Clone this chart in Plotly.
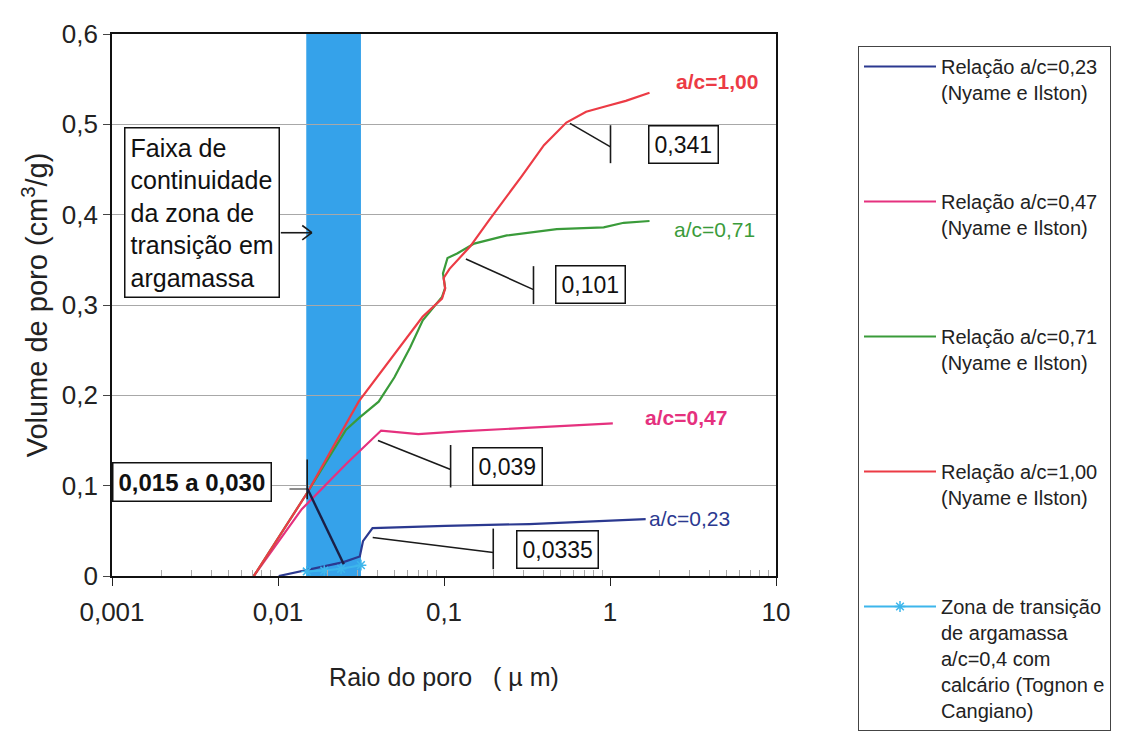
import math
import plotly.graph_objects as go

# ---------------- data ----------------
x_tick_vals = [0.001, 0.01, 0.1, 1, 10]
x_tick_text = ["0,001", "0,01", "0,1", "1", "10"]
y_tick_vals = [0, 0.1, 0.2, 0.3, 0.4, 0.5, 0.6]
y_tick_text = ["0", "0,1", "0,2", "0,3", "0,4", "0,5", "0,6"]

r_023 = [0.0101, 0.0149, 0.0248, 0.0311, 0.0325, 0.0371, 0.102, 0.326, 1.64]
v_023 = [0.0, 0.0066, 0.0154, 0.0216, 0.0385, 0.053, 0.0555, 0.0575, 0.063]

r_047 = [0.00715, 0.0139, 0.0261, 0.0418, 0.07, 0.124, 0.313, 1.04]
v_047 = [0.0, 0.074, 0.125, 0.161, 0.157, 0.160, 0.164, 0.169]

r_071 = [0.00715, 0.0151, 0.0257, 0.0308, 0.0404, 0.0503, 0.0625, 0.0745, 0.0973,
         0.1016, 0.0986, 0.105, 0.120, 0.152, 0.239, 0.478, 0.916, 1.21, 1.73]
v_071 = [0.0, 0.093, 0.162, 0.175, 0.193, 0.220, 0.253, 0.283, 0.309,
         0.319, 0.335, 0.352, 0.357, 0.368, 0.377, 0.384, 0.386, 0.391, 0.393]

r_100 = [0.00715, 0.0151, 0.0306, 0.0743, 0.0973, 0.1016, 0.0995, 0.108, 0.144,
         0.187, 0.295, 0.40, 0.546, 0.718, 0.946, 1.245, 1.73]
v_100 = [0.0, 0.093, 0.193, 0.287, 0.307, 0.318, 0.330, 0.340, 0.365,
         0.394, 0.443, 0.477, 0.502, 0.514, 0.520, 0.526, 0.535]

r_zt = [0.0149, 0.019, 0.024, 0.0316]
v_zt = [0.005, 0.006, 0.008, 0.012]

band_range = [0.0148, 0.0316]   # "0,015 a 0,030"

series_names = [
    "Relação a/c=0,23<br>(Nyame e Ilston)",
    "Relação a/c=0,47<br>(Nyame e Ilston)",
    "Relação a/c=0,71<br>(Nyame e Ilston)",
    "Relação a/c=1,00<br>(Nyame e Ilston)",
    "Zona de transição<br>de argamassa<br>a/c=0,4 com<br>calcário (Tognon e<br>Cangiano)",
]
end_labels = ["a/c=0,23", "a/c=0,47", "a/c=0,71", "a/c=1,00"]
callout_values = ["0,0335", "0,039", "0,101", "0,341"]

# ---------------- styling ----------------
FONT = "Liberation Sans, Arial, sans-serif"
C_NAVY = "#2b3990"
C_PINK = "#e5317e"
C_GREEN = "#3a9b3a"
C_RED = "#ec3b45"
C_CYAN = "#3db6ec"
C_BAND = "#35a2ea"

L, R, T, B = 104, 355, 26, 172
W = 1123 - L - R
H = 740 - T - B

fig = go.Figure()

series = [
    (r_023, v_023, C_NAVY),
    (r_047, v_047, C_PINK),
    (r_071, v_071, C_GREEN),
    (r_100, v_100, C_RED),
]
for i, (xs, ys, col) in enumerate(series):
    fig.add_trace(go.Scatter(
        x=xs, y=ys, mode="lines", name=series_names[i],
        line=dict(color=col, width=2.2), legendgroup="g%d" % i,
    ))

fig.add_trace(go.Scatter(
    x=r_zt, y=v_zt, mode="lines+markers", name=series_names[4],
    line=dict(color=C_CYAN, width=2),
    marker=dict(symbol="asterisk-open", size=9, color=C_CYAN, line=dict(color=C_CYAN, width=1.5)),
    legendgroup="g4",
))

shapes = []
# transition-zone band
shapes.append(dict(type="rect", xref="x", yref="paper", x0=band_range[0], x1=band_range[1],
                   y0=0, y1=1, fillcolor=C_BAND, line=dict(width=0), layer="between"))

def seg(x0, y0, x1, y1, w=1.6, col="#1a1a1a"):
    shapes.append(dict(type="line", xref="x", yref="y", x0=x0, y0=y0, x1=x1, y1=y1,
                       line=dict(color=col, width=w), layer="above"))

# callout leaders (line + end bar)
seg(0.574, 0.501, 1.007, 0.475); seg(1.007, 0.457, 1.007, 0.499)
seg(0.1355, 0.351, 0.346, 0.317); seg(0.346, 0.301, 0.346, 0.343)
seg(0.040, 0.150, 0.1096, 0.118); seg(0.1096, 0.098, 0.1096, 0.145)
seg(0.0372, 0.0426, 0.198, 0.026); seg(0.198, 0.0075, 0.198, 0.0525)
seg(0.01172, 0.0963, 0.01507, 0.0963, w=1)
seg(0.0150, 0.085, 0.0150, 0.129)
seg(0.01507, 0.0963, 0.0249, 0.013, w=2.4, col="#1b1f45")

# open arrow from the text box to the band
seg(0.0104, 0.380, 0.0160, 0.380, w=1.6)
seg(0.0140, 0.388, 0.0160, 0.380, w=1.6)
seg(0.0140, 0.372, 0.0160, 0.380, w=1.6)

annotations = []
L10 = math.log10

def box(text, xlog, y, size=23, bold=False, xanchor="center"):
    annotations.append(dict(
        text=("<b>%s</b>" % text) if bold else text, x=xlog, y=y, xref="x", yref="y",
        showarrow=False, xanchor=xanchor, yanchor="middle",
        font=dict(family=FONT, size=size, color="#111"),
        bordercolor="#111", borderwidth=1.5, borderpad=5, bgcolor="white"))

box(callout_values[3], 0.444, 0.478)
box(callout_values[2], -0.115, 0.323)
box(callout_values[1], -0.620, 0.121)
box(callout_values[0], -0.319, 0.029)
box("0,015 a 0,030", -3.0, 0.104, size=24, bold=True, xanchor="left")

# curve end labels
for txt, xl, y, col, bold, xa in [
    (end_labels[3], 0.643, 0.547, C_RED, True, "center"),
    (end_labels[2], 0.630, 0.384, C_GREEN, False, "center"),
    (end_labels[1], 0.459, 0.176, C_PINK, True, "center"),
    (end_labels[0], L10(1.66), 0.064, C_NAVY, False, "left"),
]:
    annotations.append(dict(
        text=("<b>%s</b>" % txt) if bold else txt, x=xl, y=y, xref="x", yref="y",
        showarrow=False, xanchor=xa, yanchor="middle",
        font=dict(family=FONT, size=21, color=col)))

# explanatory text box
annotations.append(dict(
    text="Faixa de<br>continuidade<br>da zona de<br>transição em<br>argamassa",
    x=-2.93, y=0.497, xref="x", yref="y", xanchor="left", yanchor="top",
    align="left", showarrow=False,
    font=dict(family=FONT, size=25, color="#111"),
    bordercolor="#111", borderwidth=1.5, borderpad=5, bgcolor="white"))

minor_vals = [m * 10 ** e for e in range(-3, 1) for m in range(2, 10)]

fig.update_layout(
    width=1123, height=740,
    margin=dict(l=L, r=R, t=T, b=B, autoexpand=False),
    paper_bgcolor="white", plot_bgcolor="white",
    separators=", ",
    font=dict(family=FONT, color="#222"),
    shapes=shapes, annotations=annotations,
    showlegend=True,
    legend=dict(
        x=(850 - L) / W, y=(568 - 38) / H, xanchor="left", yanchor="top",
        bordercolor="#444", borderwidth=1, bgcolor="white",
        font=dict(family=FONT, size=20, color="#222"),
        tracegroupgap=80, valign="top", itemwidth=72, maxheight=720,
    ),
    xaxis=dict(
        type="log", range=[-3, 1],
        tickmode="array", tickvals=x_tick_vals, ticktext=x_tick_text,
        tickfont=dict(size=26, color="#222"), ticks="outside", ticklen=8,
        tickcolor="#222", ticklabelstandoff=4,
        minor=dict(tickmode="array", tickvals=minor_vals, ticks="inside",
                   ticklen=6, tickcolor="#aaa", showgrid=False),
        showgrid=False, zeroline=False,
        showline=True, linecolor="#111", linewidth=1.6, mirror=True,
        title=dict(text="Raio do poro\u00a0\u00a0\u00a0(\u00a0µ\u00a0m)",
                   font=dict(size=25, color="#222"), standoff=42),
    ),
    yaxis=dict(
        range=[0, 0.6], tickmode="array", tickvals=y_tick_vals, ticktext=y_tick_text,
        tickfont=dict(size=26, color="#222"), ticks="outside", ticklen=7,
        tickcolor="#444",
        showgrid=True, gridcolor="#a8a8a8", gridwidth=1, zeroline=False,
        showline=True, linecolor="#111", linewidth=1.6, mirror=True,
        title=dict(text="Volume de poro (cm<sup>3</sup>/g)",
                   font=dict(size=29, color="#222"), standoff=6),
    ),
)

fig.write_html("out.html")
